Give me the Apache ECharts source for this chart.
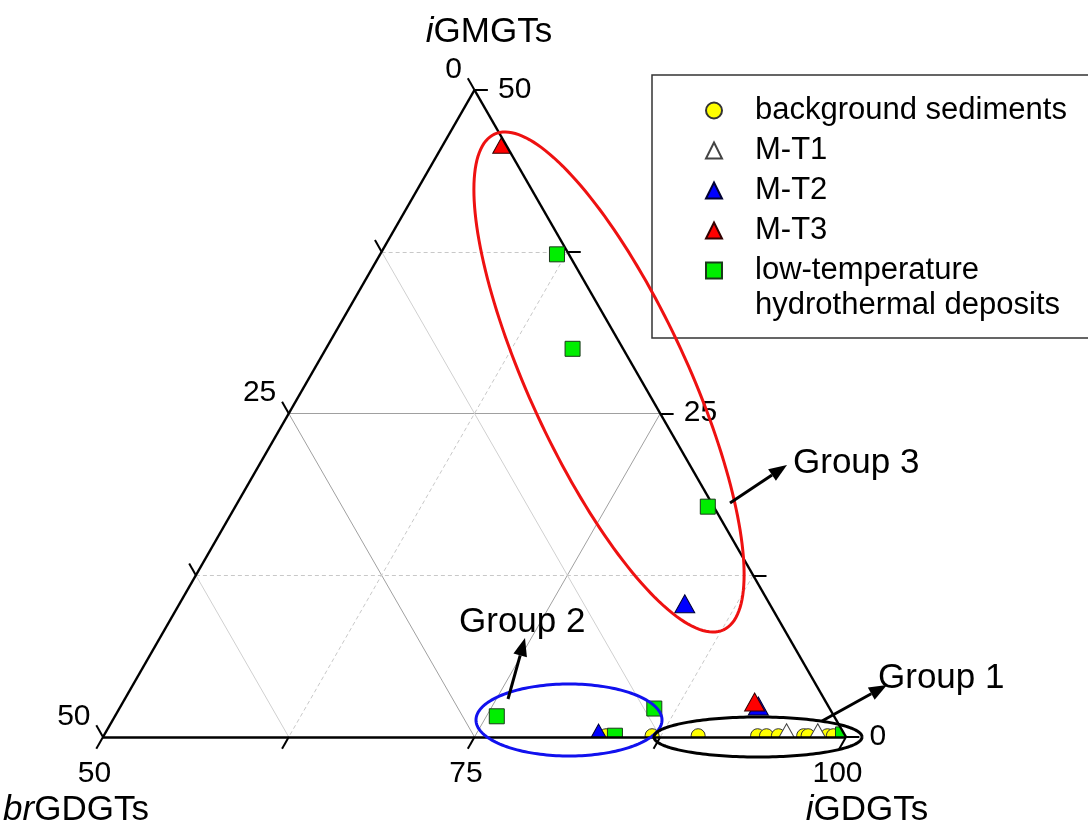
<!DOCTYPE html>
<html>
<head>
<meta charset="utf-8">
<title>Ternary GDGTs</title>
<script src="https://cdn.jsdelivr.net/npm/echarts@6/dist/echarts.min.js"></script>
<style>
  html, body { margin: 0; padding: 0; background: #fff; }
  #chart { width: 1088px; height: 834px; }
</style>
</head>
<body>
<div id="chart"></div>
<script>
// every point is [iGDGTs, iGMGTs, brGDGTs] in %
const backgroundSediments = [
  [83.8, 0.1, 16.1], [86.9, 0.1, 13.0], [90.0, 0.1, 9.9], [94.0, 0.1, 5.9], [94.6, 0.1, 5.3],
  [95.4, 0.1, 4.5], [97.1, 0.1, 2.8], [97.4, 0.1, 2.5], [98.7, 0.1, 1.2], [99.1, 0.1, 0.8]
]
const mT1 = [[95.8, 0.4, 3.8], [97.9, 0.4, 1.7]]
const mT2 = [[84.0, 10.3, 5.7], [83.2, 0.3, 16.5], [92.9, 2.4, 4.7]]
const mT3 = [[54.0, 45.8, 0.2], [92.5, 2.7, 4.8]]
const lowTempDeposits = [
  [61.9, 37.3, 0.8], [66.6, 30.0, 3.4], [81.8, 17.8, 0.4], [75.7, 1.6, 22.7],
  [86.0, 2.2, 11.8], [84.4, 0.1, 15.5], [99.7, 0.2, 0.1]
]

const tickValues = [0, 12.5, 25, 37.5, 50]
const brLabels = [0, 25, 50]
const iGMLabels = [50, 25, 0]
const iGDLabels = [50, 75, 100]

const DEPOSITS = 'low-temperature hydrothermal deposits'
const FONT = '"Liberation Sans", Arial, Helvetica, sans-serif'

// ternary -> cartesian (iGDGTs 50..100 on base, iGMGTs 0..50 up)
function toXY(p) {
  return [(p[0] - 50) / 50 + p[1] / 100, p[1] / 50]
}

function constM(m) { return [[50, m, 50 - m], [100 - m, m, 0]] }
function constB(b) { return [[50, 50 - b, b], [100 - b, 0, b]] }
function constG(g) { return [[g, 100 - g, 0], [g, 0, 100 - g]] }

function segSeries(segs, style, z) {
  return {
    type: 'lines',
    coordinateSystem: 'cartesian2d',
    polyline: false,
    silent: true,
    clip: false,
    z: z,
    lineStyle: Object.assign({ opacity: 1, curveness: 0 }, style),
    data: segs.map(s => ({ coords: [toXY(s[0]), toXY(s[1])] }))
  }
}

function markerSeries(name, data, symbol, size, color, border, z) {
  return {
    type: 'scatter',
    name: name,
    data: data.map(toXY),
    symbol: symbol,
    symbolSize: size,
    z: z,
    clip: false,
    itemStyle: { color: color, borderColor: border, borderWidth: 1, opacity: 1 },
    emphasis: { disabled: true }
  }
}

function labelSeries(points, label) {
  return {
    type: 'scatter',
    data: points,
    symbolSize: 1,
    silent: true,
    clip: false,
    z: 5,
    itemStyle: { color: 'rgba(255,255,255,0)' },
    label: Object.assign({
      show: true,
      position: [0, 0],
      formatter: p => String(p.value[2]),
      fontSize: 30,
      fontFamily: FONT,
      color: '#000',
      opacity: 1,
      textBorderWidth: 0,
      verticalAlign: 'middle'
    }, label)
  }
}

const d = 0.9
const ticks = []
tickValues.forEach(v => {
  ticks.push([[50, 50 - v, v], [50 - d, 50 - v + d, v]])
  ticks.push([[100 - v, v, 0], [100 - v + d, v, -d]])
  ticks.push([[50 + v, 0, 50 - v], [50 + v, -d, 50 - v + d]])
})
const frame = [
  [[50, 0, 50], [100, 0, 0]],
  [[100, 0, 0], [50, 50, 0]],
  [[50, 50, 0], [50, 0, 50]]
]

const onBase = lowTempDeposits.filter(p => p[1] < 0.5)
const offBase = lowTempDeposits.filter(p => p[1] >= 0.5)

const chart = echarts.init(document.getElementById('chart'))

chart.setOption({
  animation: false,
  grid: { left: 103, right: 242, top: 90, bottom: 97 },
  xAxis: { type: 'value', min: 0, max: 1, show: false },
  yAxis: { type: 'value', min: 0, max: 1, show: false },
  legend: {
    orient: 'vertical',
    left: 700,
    top: 90,
    itemWidth: 16,
    itemHeight: 16,
    itemGap: 9,
    selectedMode: false,
    data: ['background sediments', 'M-T1', 'M-T2', 'M-T3', DEPOSITS],
    formatter: name => name === DEPOSITS ? 'low-temperature' : name,
    textStyle: { fontSize: 31, fontFamily: FONT, color: '#000', lineHeight: 27, padding: [0, 0, 0, 28] }
  },
  series: [
    segSeries([constM(25), constB(25), constG(75)], { color: '#a0a0a0', width: 1 }, 1),
    segSeries([constB(12.5), constB(37.5)], { color: '#d0d0d0', width: 1 }, 1),
    segSeries([constM(12.5), constM(37.5), constG(62.5), constG(87.5)], { color: '#c8c8c8', width: 1, type: [4, 3] }, 1),
    markerSeries('background sediments', backgroundSediments, 'circle', 14, '#ffff00', '#333', 2),
    markerSeries('M-T1', mT1, 'triangle', [18, 16], '#ffffff', '#444', 2),
    markerSeries('M-T2', mT2, 'triangle', [20, 18], '#0000ff', '#000033', 2),
    markerSeries('M-T3', mT3, 'triangle', [20, 18], '#ff0000', '#330000', 2),
    markerSeries(DEPOSITS, onBase, 'rect', 15, '#00ee00', '#1a3a1a', 2),
    segSeries(frame, { color: '#000', width: 2.5 }, 4),
    segSeries(ticks, { color: '#000', width: 2 }, 4),
    markerSeries(DEPOSITS, offBase, 'rect', 15, '#00ee00', '#1a3a1a', 5),
    labelSeries(brLabels.map(v => toXY([50, 50 - v, v]).concat([v])), { align: 'right', offset: [-12, -20] }),
    labelSeries(iGMLabels.map(v => toXY([100 - v, v, 0]).concat([v])), { align: 'left', offset: [24, 0] }),
    labelSeries(iGDLabels.map(v => toXY([v, 0, 100 - v]).concat([v])), { align: 'center', offset: [-8, 37] })
  ]
})

function ellipse(cx, cy, a, b, deg, color) {
  const t = deg * Math.PI / 180
  const pts = []
  for (let i = 0; i <= 180; i++) {
    const s = i / 180 * Math.PI * 2
    const x = a * Math.cos(s), y = b * Math.sin(s)
    pts.push([cx + x * Math.cos(t) - y * Math.sin(t), cy + x * Math.sin(t) + y * Math.cos(t)])
  }
  return { type: 'polyline', z: 8, silent: true, shape: { points: pts }, style: { stroke: color, lineWidth: 3, fill: null } }
}

function arrow(x1, y1, x2, y2) {
  const len = Math.hypot(x2 - x1, y2 - y1)
  const ux = (x2 - x1) / len, uy = (y2 - y1) / len
  const hl = 18, hw = 7
  const bx = x2 - ux * hl, by = y2 - uy * hl
  return [
    { type: 'line', z: 8, silent: true, shape: { x1: x1, y1: y1, x2: bx, y2: by }, style: { stroke: '#000', lineWidth: 3 } },
    { type: 'polygon', z: 8, silent: true, shape: { points: [[x2, y2], [bx - uy * hw, by + ux * hw], [bx + uy * hw, by - ux * hw]] }, style: { fill: '#000' } }
  ]
}

function text(str, x, y, size, align, rich) {
  return {
    type: 'text', z: 8, silent: true, x: x, y: y,
    style: { text: str, fontSize: size, fontFamily: FONT, fill: '#000', align: align, verticalAlign: 'middle', rich: rich }
  }
}

const L = chart.convertToPixel({ gridIndex: 0 }, toXY([50, 0, 50]))
const R = chart.convertToPixel({ gridIndex: 0 }, toXY([100, 0, 0]))
const T = chart.convertToPixel({ gridIndex: 0 }, toXY([50, 50, 0]))
const W = 1088, H = 834
const italic = { it: { fontStyle: 'italic', fontSize: 35, fontFamily: FONT, fill: '#000' } }

chart.setOption({
  graphic: [
    {
      type: 'polygon', z: 3, silent: true,
      shape: { points: [[0, 0], [W, 0], [W, H], [0, H], [0, 0], L, R, T, L] },
      style: { fill: '#fff' }
    },
    { type: 'rect', z: 8, silent: true, shape: { x: 652, y: 75, width: 460, height: 263 }, style: { fill: null, stroke: '#333', lineWidth: 1.5 } },
    text('hydrothermal deposits', 755, 305, 31, 'left'),
    text('{it|i}GMGTs', 489, 32, 35, 'center', italic),
    text('{it|br}GDGTs', 76, 810, 35, 'center', italic),
    text('{it|i}GDGTs', 867, 810, 35, 'center', italic),
    ellipse(609, 382, 273, 79, 65.2, '#ee1111'),
    ellipse(569, 720, 93, 36, 0, '#1111ee'),
    ellipse(758, 737, 104, 20, 0, '#000'),
    ...arrow(730, 503, 787, 465),
    ...arrow(508, 699, 525, 638),
    ...arrow(822, 721, 887, 685),
    text('Group 3', 793, 463, 35, 'left'),
    text('Group 2', 459, 622, 35, 'left'),
    text('Group 1', 878, 678, 35, 'left')
  ]
})
</script>
</body>
</html>
